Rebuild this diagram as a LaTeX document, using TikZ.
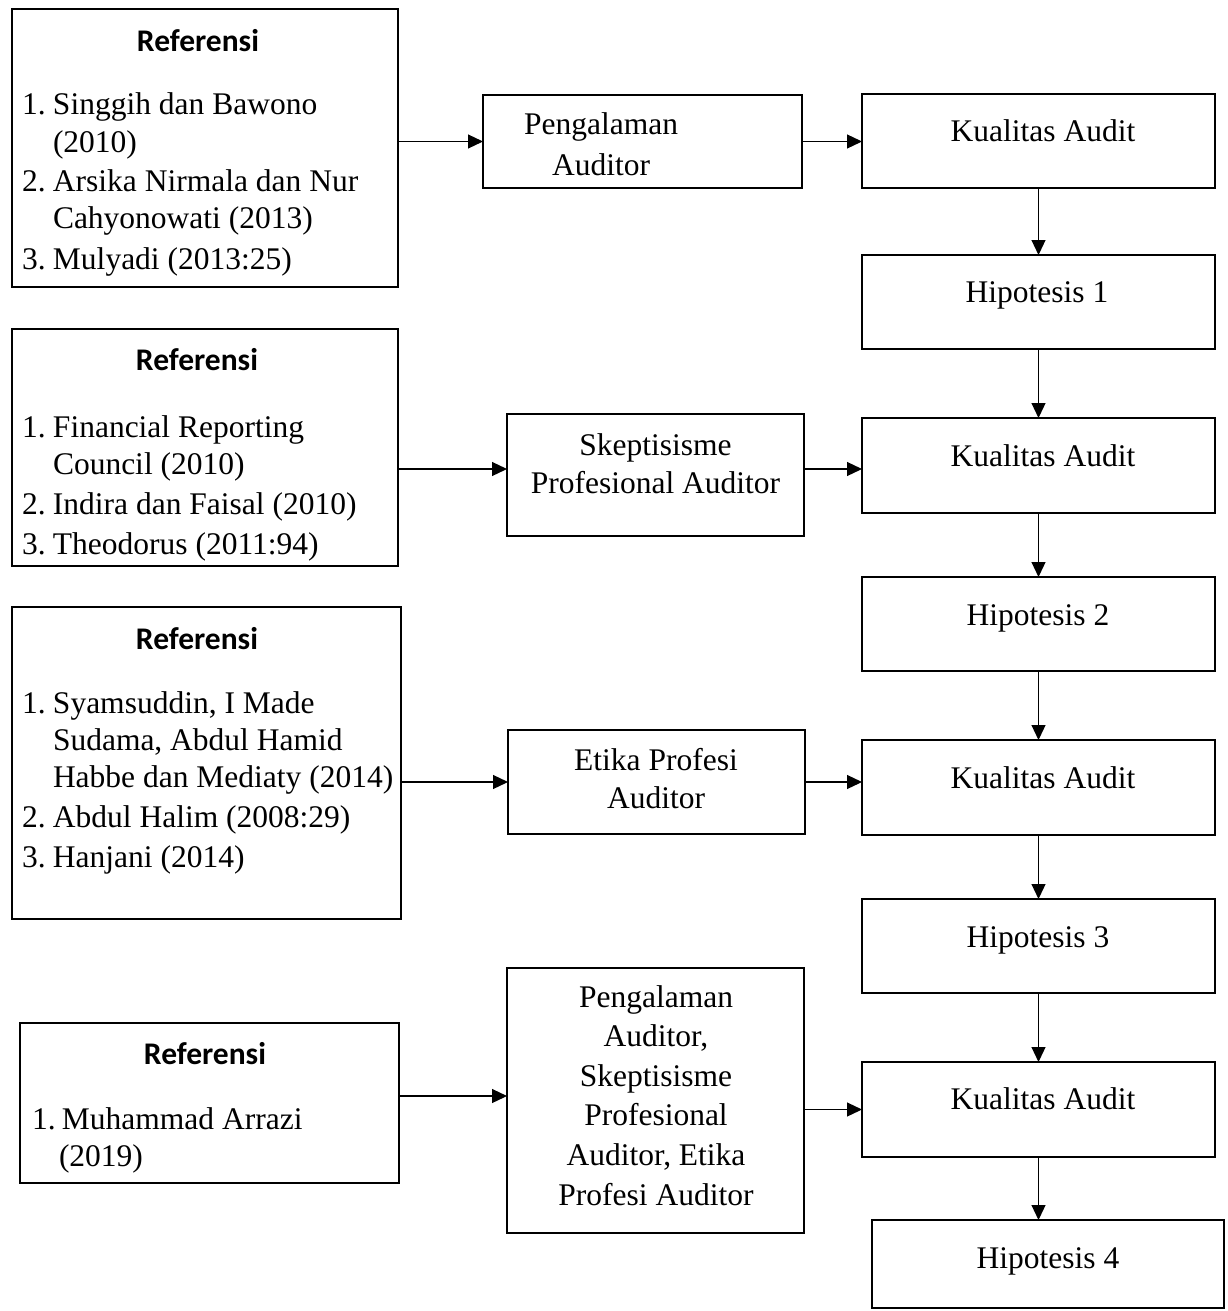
\documentclass[tikz,border=0pt]{standalone}
\usepackage{fontspec}
\setmainfont{Liberation Serif}
\newfontfamily\calibri{Carlito}
\usetikzlibrary{arrows.meta}
\newcommand\refnum[2][31pt]{\makebox[#1][l]{#2}}
\begin{document}
\begin{tikzpicture}[x=1pt,y=-1pt,
  box/.style={draw, line width=2pt, inner sep=0pt, outer sep=0pt},
  mbox/.style={draw, line width=1.6pt, inner sep=0pt, outer sep=0pt},
  txt/.style={inner sep=0pt, outer sep=0pt, anchor=base, font=\fontsize{31.5}{37}\selectfont},
  head/.style={inner sep=0pt, outer sep=0pt, anchor=base, font=\calibri\bfseries\fontsize{31.5}{37}\selectfont},
  reft/.style={inner sep=0pt, outer sep=0pt, anchor=base west, font=\fontsize{31.5}{37}\selectfont},
  arr/.style={line width=1.2pt, -{Triangle[length=15pt,width=14pt]}}
]
\path[fill=white, use as bounding box] (0,0) rectangle (1227,1311);

% ---------- reference boxes ----------
\node[box, minimum width=386pt, minimum height=278pt] (r1) at (205,148) {};
\node[head] (r1h) at (198,52) {Referensi};
\node[reft] (r1t) at (22,115) {\begin{tabular}[t]{@{}l@{}}
\refnum{1.}Singgih dan Bawono\\
\hspace*{31pt}(2010)\\[3pt]
\refnum{2.}Arsika Nirmala dan Nur\\
\hspace*{31pt}Cahyonowati (2013)\\[3pt]
\refnum{3.}Mulyadi (2013:25)
\end{tabular}};

\node[box, minimum width=386pt, minimum height=237pt] (r2) at (205,447.5) {};
\node[head] (r2h) at (197,370) {Referensi};
\node[reft] (r2t) at (22,437) {\begin{tabular}[t]{@{}l@{}}
\refnum{1.}Financial Reporting\\
\hspace*{31pt}Council (2010)\\[3pt]
\refnum{2.}Indira dan Faisal (2010)\\[3pt]
\refnum{3.}Theodorus (2011:94)
\end{tabular}};

\node[box, minimum width=389pt, minimum height=312pt] (r3) at (206.5,763) {};
\node[head] (r3h) at (197,649) {Referensi};
\node[reft] (r3t) at (22,713) {\begin{tabular}[t]{@{}l@{}}
\refnum{1.}Syamsuddin, I Made\\
\hspace*{31pt}Sudama, Abdul Hamid\\
\hspace*{31pt}Habbe dan Mediaty (2014)\\[3pt]
\refnum{2.}Abdul Halim (2008:29)\\[3pt]
\refnum{3.}Hanjani (2014)
\end{tabular}};

\node[box, minimum width=379pt, minimum height=160pt] (r4) at (209.5,1103) {};
\node[head] (r4h) at (205,1064) {Referensi};
\node[reft] (r4t) at (32,1129) {\begin{tabular}[t]{@{}l@{}}
\refnum[30pt]{1.}Muhammad Arrazi\\
\hspace*{27pt}(2019)
\end{tabular}};

% ---------- middle boxes ----------
\node[mbox, minimum width=319pt, minimum height=93pt] (p1) at (642.5,141.5) {};
\node[txt] (p1t) at (601,135) {\begin{tabular}[t]{@{}c@{}}Pengalaman\\[4pt] Auditor\end{tabular}};

\node[mbox, minimum width=297pt, minimum height=122pt] (s) at (655.5,475) {};
\node[txt] (st) at (655.5,455) {\begin{tabular}[t]{@{}c@{}}Skeptisisme\\[1pt] Profesional Auditor\end{tabular}};

\node[mbox, minimum width=297pt, minimum height=104pt] (e) at (656.5,782) {};
\node[txt] (et) at (656,770) {\begin{tabular}[t]{@{}c@{}}Etika Profesi\\[1pt] Auditor\end{tabular}};

\node[mbox, minimum width=297pt, minimum height=265pt] (c) at (655.5,1100.5) {};
\node[txt, font=\fontsize{31.5}{39.6}\selectfont] (ct) at (656,1007) {\begin{tabular}[t]{@{}c@{}}Pengalaman\\ Auditor,\\ Skeptisisme\\ Profesional\\ Auditor, Etika\\ Profesi Auditor\end{tabular}};

% ---------- right column ----------
\node[box, minimum width=353pt, minimum height=94pt] (k1) at (1038.5,141) {};
\node[txt] (k1t) at (1043,142) {Kualitas Audit};
\node[box, minimum width=353pt, minimum height=94pt] (h1) at (1038.5,302) {};
\node[txt] (h1t) at (1037,302) {Hipotesis 1};
\node[box, minimum width=353pt, minimum height=95pt] (k2) at (1038.5,465.5) {};
\node[txt] (k2t) at (1043,466) {Kualitas Audit};
\node[box, minimum width=353pt, minimum height=94pt] (h2) at (1038.5,624) {};
\node[txt] (h2t) at (1038,625) {Hipotesis 2};
\node[box, minimum width=353pt, minimum height=95pt] (k3) at (1038.5,787.5) {};
\node[txt] (k3t) at (1043,788) {Kualitas Audit};
\node[box, minimum width=353pt, minimum height=94pt] (h3) at (1038.5,946) {};
\node[txt] (h3t) at (1038,947) {Hipotesis 3};
\node[box, minimum width=353pt, minimum height=95pt] (k4) at (1038.5,1109.5) {};
\node[txt] (k4t) at (1043,1109) {Kualitas Audit};
\node[box, minimum width=352pt, minimum height=88pt] (h4) at (1048,1264) {};
\node[txt] (h4t) at (1048,1268) {Hipotesis 4};

% ---------- connectors ----------
\coordinate (s-in) at ([yshift=6pt]s.west);
\coordinate (s-out) at ([yshift=6pt]s.east);
\coordinate (c-in) at ([yshift=4.5pt]c.west);

\draw[arr] (r1.east |- p1.west) -- (p1.west);
\draw[arr] (p1.east) -- (p1.east -| k1.west);
\draw[arr] (r2.east |- s-in) -- (s-in);
\draw[arr] (s-out) -- (s-out -| k2.west);
\draw[arr] (r3.east |- e.west) -- (e.west);
\draw[arr] (e.east) -- (e.east -| k3.west);
\draw[arr] (r4.east |- c-in) -- (c-in);
\draw[arr] (c.east |- k4.west) -- (k4.west);

\draw[arr] (k1.south) -- (h1.north);
\draw[arr] (h1.south) -- (k2.north);
\draw[arr] (k2.south) -- (h2.north);
\draw[arr] (h2.south) -- (k3.north);
\draw[arr] (k3.south) -- (h3.north);
\draw[arr] (h3.south) -- (k4.north);
\draw[arr] (k4.south) -- (k4.south |- h4.north);
\end{tikzpicture}
\end{document}
